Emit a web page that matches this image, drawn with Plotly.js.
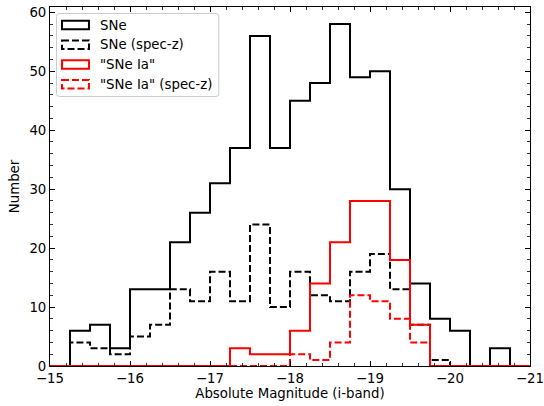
<!DOCTYPE html>
<html>
<head>
<meta charset="utf-8">
<script src="https://cdn.plot.ly/plotly-3.0.1.min.js"></script>
<style>
  html, body { margin: 0; padding: 0; background: #fff; }
  #chart { width: 544px; height: 406px; }
</style>
</head>
<body>
<div id="chart"></div>
<script>
// Bin edges in absolute i-band magnitude (0.25 mag wide, -15 to -21)
const binStart = -15;
const binWidth = -0.25;
const nBins = 24;
const binEdges = Array.from({length: nBins + 1}, (_, i) => +(binStart + i * binWidth).toFixed(2));

// Counts per bin
const countsSNe        = [0, 6, 7, 3, 13, 13, 21, 26, 31, 37, 56, 37, 45, 48, 58, 49, 50, 30, 14, 8, 6, 0, 3, 0];
const countsSNeSpec    = [0, 4, 3, 2, 5, 7, 13, 11, 16, 11, 24, 10, 16, 12, 11, 16, 19, 13, 7, 1, 0, 0, 0, 0];
const countsIa         = [0, 0, 0, 0, 0, 0, 0, 0, 0, 3, 2, 2, 6, 14, 21, 28, 28, 18, 7, 0, 0, 0, 0, 0];
const countsIaSpec     = [0, 0, 0, 0, 0, 0, 0, 0, 0, 0, 0, 0, 2, 1, 4, 12, 11, 8, 4, 0, 0, 0, 0, 0];

const seriesNames = ['SNe', 'SNe (spec-z)', '"SNe Ia"', '"SNe Ia" (spec-z)'];
const seriesCounts = [countsSNe, countsSNeSpec, countsIa, countsIaSpec];
const seriesColors = ['#000000', '#000000', '#ff0000', '#ff0000'];
const dashed = '7px,3px';
const seriesDash = ['solid', dashed, 'solid', dashed];

const FONT = 'DejaVu Sans';
const FS = 13.3;

// Outline of a step histogram from edges and counts
function stepOutline(edges, counts) {
  const xs = [edges[0]], ys = [0];
  counts.forEach((c, i) => {
    xs.push(edges[i], edges[i + 1]);
    ys.push(c, c);
  });
  xs.push(edges[edges.length - 1]);
  ys.push(0);
  return {xs, ys};
}

const traces = seriesCounts.map((counts, k) => {
  const o = stepOutline(binEdges, counts);
  return {
    type: 'scatter', mode: 'lines', x: o.xs, y: o.ys,
    name: seriesNames[k], showlegend: false, hoverinfo: 'skip',
    line: {color: seriesColors[k], width: 2, dash: seriesDash[k], shape: 'linear'}
  };
});

// Plot-area geometry (pixels)
const W = 544, H = 406;
const M = {l: 50, r: 13.5, t: 7, b: 40};
const PW = W - M.l - M.r, PH = H - M.t - M.b;
const px = x => (x - M.l) / PW;
const py = y => (H - M.b - y) / PH;

// Legend drawn as a framed box with outlined patch handles
const shapes = [];
const annotations = [];
function roundedRect(x0, y0, x1, y1, r) {
  const a = px(x0), b = px(x1), c = py(y0), d = py(y1);
  const rx = r / PW, ry = r / PH;
  return `M${a + rx},${c} L${b - rx},${c} Q${b},${c} ${b},${c - ry} L${b},${d + ry} Q${b},${d} ${b - rx},${d} ` +
         `L${a + rx},${d} Q${a},${d} ${a},${d + ry} L${a},${c - ry} Q${a},${c} ${a + rx},${c} Z`;
}
shapes.push({
  type: 'path', xref: 'paper', yref: 'paper', path: roundedRect(56.5, 13.5, 219, 96.5, 3),
  fillcolor: 'rgba(255,255,255,0.8)', line: {color: '#cccccc', width: 1}, layer: 'above'
});
const rowY = [25, 44.8, 64.5, 84.2];
seriesNames.forEach((name, k) => {
  shapes.push({
    type: 'rect', xref: 'paper', yref: 'paper',
    x0: px(62), x1: px(89), y0: py(rowY[k] - 4.3), y1: py(rowY[k] + 4.3),
    line: {color: seriesColors[k], width: 2, dash: seriesDash[k]},
    fillcolor: 'rgba(0,0,0,0)', layer: 'above'
  });
  annotations.push({
    xref: 'paper', yref: 'paper', x: px(98), y: py(rowY[k]),
    xanchor: 'left', yanchor: 'middle', showarrow: false, text: name,
    font: {family: FONT, size: FS, color: '#000'}
  });
});

const axisCommon = {
  showline: true, linecolor: '#000', linewidth: 1, mirror: 'ticks',
  ticks: 'inside', ticklen: 4.7, tickwidth: 1, tickcolor: '#000',
  showgrid: false, zeroline: false, automargin: false,
  ticklabeloverflow: 'allow',
  tickfont: {family: FONT, size: FS, color: '#000'}
};

const layout = {
  width: W, height: H, margin: M,
  paper_bgcolor: '#fff', plot_bgcolor: '#fff',
  font: {family: FONT, size: FS, color: '#000'},
  showlegend: false, hovermode: false,
  xaxis: Object.assign({}, axisCommon, {
    range: [-15, -21], tick0: -15, dtick: -1, ticklabelstandoff: 0,
    minor: {dtick: 0.2, ticks: 'inside', ticklen: 2.7, tickwidth: 0.8, tickcolor: '#000', showgrid: false},
    title: {text: 'Absolute Magnitude (i-band)', standoff: 3, font: {family: FONT, size: FS, color: '#000'}}
  }),
  yaxis: Object.assign({}, axisCommon, {
    range: [0, 60.9], tick0: 0, dtick: 10,
    minor: {dtick: 2, ticks: 'inside', ticklen: 2.7, tickwidth: 0.8, tickcolor: '#000', showgrid: false},
    title: {text: 'Number', standoff: 6, font: {family: FONT, size: FS, color: '#000'}}
  }),
  shapes: shapes,
  annotations: annotations
};

Plotly.newPlot('chart', traces, layout, {staticPlot: true, displayModeBar: false});
</script>
</body>
</html>
